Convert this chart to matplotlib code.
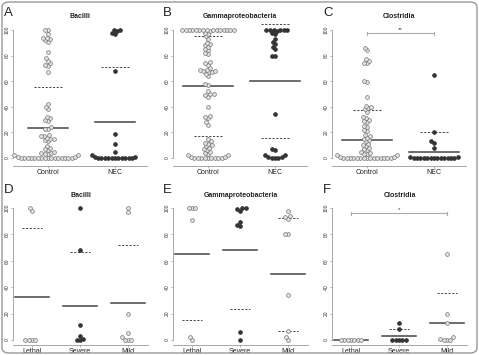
import numpy as np
import matplotlib
matplotlib.use('Agg')
import matplotlib.pyplot as plt
from matplotlib.patches import FancyBboxPatch

plt.rcParams['font.family'] = ['Liberation Sans', 'DejaVu Sans']

# ---- data (relative abundance, %) ----
top_groups = ['Control', 'NEC']
bottom_groups = ['Lethal', 'Severe', 'Mild']

bacilli_control = [0]*16 + [1, 1, 2, 2, 3, 3, 4, 4, 5, 6, 7, 8, 9, 13, 14, 15, 15, 16, 17, 17, 18,
                            23, 23, 24, 29, 30, 31, 32, 38, 40, 42, 67, 72, 73, 74, 76, 78, 83,
                            91, 92, 93, 94, 94, 97, 100, 100]
bacilli_nec = [0]*11 + [1, 1, 2, 5, 11, 19, 68, 97, 98, 99, 100, 100]

gamma_control = [0]*9 + [1, 1, 2, 2, 3, 4, 5, 6, 7, 8, 9, 10, 11, 12, 13, 15, 26, 28, 31, 32, 33, 40,
                         48, 49, 50, 50, 52, 57, 58, 64, 66, 67, 67, 68, 68, 69, 69, 70, 73, 74, 75,
                         81, 82, 84, 85, 87, 88, 89, 90, 93, 95, 97, 98, 99] + [100]*15
gamma_nec = [0, 0, 0, 1, 1, 2, 2, 6, 7, 34, 80, 80, 85, 87, 89, 91, 93, 97, 98, 99] + [100]*6

clos_control = [0]*15 + [1, 1, 2, 2, 3, 3, 4, 5, 6, 7, 8, 9, 10, 11, 13, 14, 15, 16, 17, 18,
                         21, 22, 24, 25, 28, 29, 30, 31, 32, 36, 38, 39, 40, 41, 48, 59, 60,
                         74, 74, 76, 77, 84, 86]
clos_nec = [0]*13 + [1, 1, 8, 12, 13, 20, 65]

bacilli_lethal = [0, 0, 0, 0, 98, 100]
bacilli_severe = [0, 0, 1, 3, 11, 68, 100]
bacilli_mild = [0, 0, 0, 2, 5, 20, 97, 100]

gamma_lethal = [0, 2, 91, 100, 100, 100]
gamma_severe = [0, 6, 86, 87, 89, 98, 99, 100, 100]
gamma_mild = [0, 2, 7, 34, 80, 80, 92, 93, 94, 98]

clos_lethal = [0]*7
clos_severe = [0, 0, 0, 0, 0, 8, 13]
clos_mild = [0, 0, 0, 1, 2, 13, 20, 65]

# mean and SD lines
a_mean, a_sd = [23.2, 27.9], [32.0, 43.5]
b_mean, b_sd = [56.3, 60.4], [39.3, 44.4]
c_mean, c_sd = [14.1, 4.9], [23.4, 15.1]
d_mean, d_sd = [32.8, 26.0, 28.0], [51.8, 40.4, 43.7]
e_mean, e_sd = [65.2, 68.2, 49.7], [50.3, 44.7, 43.0]
f_mean, f_sd = [0.0, 3.0, 12.6], [0.0, 5.3, 23.0]

c_sig = [1, 2, 97.6, '**']
f_sig = [1, 3, 96.0, '*']

OPEN = dict(facecolor='#e2e2e2', edgecolor='#777777')
FILL = dict(facecolor='#333333', edgecolor='#333333')


def swarm(ax, x0, vals, d=3.4):
    t = ax.transData
    pts = np.sort(np.asarray(vals, dtype=float))
    py = t.transform(np.column_stack([np.full(len(pts), x0), pts]))[:, 1]
    placed = []
    offs = []
    for y in py:
        cands = [0.0]
        bad = []
        for px, qy in placed:
            dy = abs(y - qy)
            if dy < d:
                w = np.sqrt(d * d - dy * dy)
                bad.append((px - w, px + w))
                cands += [px - w, px + w]
        cands.sort(key=abs)
        for c in cands:
            if all(not (lo + 1e-6 < c < hi - 1e-6) for lo, hi in bad):
                break
        placed.append((c, y))
        offs.append(c)
    xpix = t.transform((x0, 0))[0] + np.array(offs)
    xs = t.inverted().transform(np.column_stack([xpix, py]))[:, 0]
    return xs, pts


def panel(rect, groups, data, styles, means, sds, title, letter, letter_pos, xlim, ylim, half,
          tpad=3, sig=None):
    ax = fig.add_axes(rect)
    ax.set_xlim(*xlim)
    ax.set_ylim(*ylim)
    for i, (vals, st) in enumerate(zip(data, styles)):
        xs, ys = swarm(ax, i + 1, vals)
        ax.scatter(xs, ys, s=7.5, linewidths=0.5, zorder=3, clip_on=False, **st)
    for i, (m, s) in enumerate(zip(means, sds)):
        x = i + 1
        ax.plot([x - half[0], x + half[0]], [m, m], color='#444444', lw=1.1, zorder=2)
        for v in (m + s, m - s):
            if v >= 0 and s > 0:
                ax.plot([x - half[1], x + half[1]], [v, v], color='#444444', lw=0.7,
                        dashes=(2.2, 1.6), zorder=2)
    if sig is not None:
        x1, x2, y, lab = sig
        ax.plot([x1, x2], [y, y], color='#aaaaaa', lw=0.8)
        ax.plot([x1, x1], [y - 1.2, y + 1.2], color='#aaaaaa', lw=0.8)
        ax.plot([x2, x2], [y - 1.2, y + 1.2], color='#aaaaaa', lw=0.8)
        ax.text((x1 + x2) / 2, y + 0.8, lab, ha='center', va='bottom', fontsize=4.5, color='#444444')
    ax.set_xticks(range(1, len(groups) + 1))
    ax.set_xticklabels(groups, fontsize=5, color='#222222')
    ax.set_yticks([0, 20, 40, 60, 80, 100])
    ax.set_yticklabels(['0', '20', '40', '60', '80', '100'], rotation=90, va='center',
                       fontsize=3.6, color='#333333')
    for side in ('top', 'right'):
        ax.spines[side].set_visible(False)
    for side in ('left', 'bottom'):
        ax.spines[side].set_color('#999999')
        ax.spines[side].set_linewidth(0.6)
    ax.spines['left'].set_bounds(0, 100)
    ax.tick_params(axis='both', length=1.5, width=0.5, color='#999999', pad=1)
    ax.set_title(title, fontsize=5, fontweight='bold', pad=tpad, color='#222222')
    fig.text(letter_pos[0] / W, 1 - letter_pos[1] / H, letter, fontsize=9.5,
             ha='left', va='center', color='#222222')
    return ax


W, H = 479, 355
fig = plt.figure(figsize=(W / 100, H / 100), dpi=100)


def rect(left, right, top, bottom):
    return [left / W, (H - bottom) / H, (right - left) / W, (bottom - top) / H]


top_xlim = (0.478, 2.478)
top_ylim = (-6.25, 106.25)
bot_xlim = (0.604, 3.417)
bot_ylim = (-3.8, 103.0)
lefts = [13, 173, 332]
letter_x = [4, 163, 323]

panel(rect(lefts[0], lefts[0] + 134, 22, 166), top_groups, [bacilli_control, bacilli_nec],
      [OPEN, FILL], a_mean, a_sd, 'Bacilli', 'A', (letter_x[0], 13), top_xlim, top_ylim, (0.3, 0.21))
panel(rect(lefts[1], lefts[1] + 134, 22, 166), top_groups, [gamma_control, gamma_nec],
      [OPEN, FILL], b_mean, b_sd, 'Gammaproteobacteria', 'B', (letter_x[1], 13), top_xlim, top_ylim,
      (0.38, 0.21))
panel(rect(lefts[2], lefts[2] + 134, 22, 166), top_groups, [clos_control, clos_nec],
      [OPEN, FILL], c_mean, c_sd, 'Clostridia', 'C', (letter_x[2], 13), top_xlim, top_ylim,
      (0.38, 0.21), sig=c_sig)

panel(rect(lefts[0], lefts[0] + 135, 204, 345), bottom_groups,
      [bacilli_lethal, bacilli_severe, bacilli_mild], [OPEN, FILL, OPEN],
      d_mean, d_sd, 'Bacilli', 'D', (letter_x[0], 190), bot_xlim, bot_ylim, (0.36, 0.2), tpad=5)
panel(rect(lefts[1], lefts[1] + 135, 204, 345), bottom_groups,
      [gamma_lethal, gamma_severe, gamma_mild], [OPEN, FILL, OPEN],
      e_mean, e_sd, 'Gammaproteobacteria', 'E', (letter_x[1], 190), bot_xlim, bot_ylim, (0.36, 0.2),
      tpad=5)
panel(rect(lefts[2], lefts[2] + 135, 204, 345), bottom_groups,
      [clos_lethal, clos_severe, clos_mild], [OPEN, FILL, OPEN],
      f_mean, f_sd, 'Clostridia', 'F', (letter_x[2], 190), bot_xlim, bot_ylim, (0.36, 0.2),
      tpad=5, sig=f_sig)

border = FancyBboxPatch((2 / W, 2 / H), 1 - 4 / W, 1 - 4 / H,
                        boxstyle='round,pad=0,rounding_size=0.015',
                        transform=fig.transFigure, fill=False, ec='#999999', lw=1.0)
fig.patches.append(border)

fig.savefig('out.png', dpi=100)
